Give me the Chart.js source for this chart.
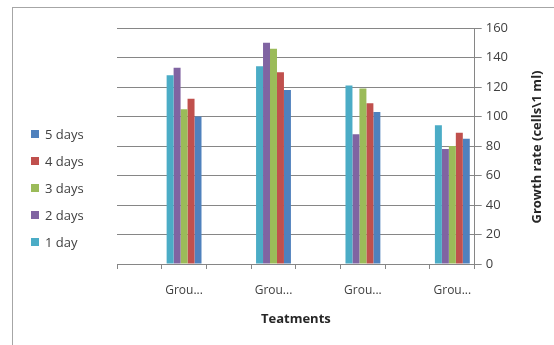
<!DOCTYPE html>
<html>
<head>
<meta charset="utf-8">
<script src="https://cdn.jsdelivr.net/npm/chart.js@4.4.0/dist/chart.umd.min.js"></script>
<style>
  html, body { margin: 0; padding: 0; background: #fff; }
  #wrap { width: 554px; height: 345px; position: relative; }
</style>
</head>
<body>
<div id="wrap"><canvas id="growthChart"></canvas></div>
<script>
// groups (Excel left an empty slot before each group on the axis)
const groups = ['Grou...', 'Grou...', 'Grou...', 'Grou...'];
const yTicks = [0, 20, 40, 60, 80, 100, 120, 140, 160];

const day1 = [128, 134, 121, 94];
const day2 = [133, 150, 88, 78];
const day3 = [105, 146, 119, 80];
const day4 = [112, 130, 109, 89];
const day5 = [100, 118, 103, 85];

const seriesNames = ['1 day', '2 days', '3 days', '4 days', '5 days'];
const seriesColors = ['#4BACC6', '#8064A2', '#9BBB59', '#C0504D', '#4F81BD'];

// spread over 8 slots: blank, group, blank, group ...
function spread(arr, blank) {
    const out = [];
    arr.forEach(v => { out.push(blank); out.push(v); });
    return out;
}
const labels = spread(groups, '');

const datasets = [day1, day2, day3, day4, day5].map((d, i) => ({
    label: seriesNames[i],
    data: spread(d, null),
    backgroundColor: seriesColors[i],
    borderWidth: 0,
    barPercentage: 1.0,
    categoryPercentage: 0.78
}));

// chart frame, legend and rotated y title
const extras = {
    id: 'extras',
    afterDraw(chart) {
        const ctx = chart.ctx;
        ctx.save();
        ctx.strokeStyle = '#a6a6a6';
        ctx.lineWidth = 1;
        ctx.strokeRect(12.5, 7.5, 600, 400);

        // legend, reversed like Excel
        ctx.font = '13px "Open Sans"';
        ctx.textBaseline = 'middle';
        const ys = [134, 161, 188, 215, 242];
        for (let k = 0; k < 5; k++) {
            const i = 4 - k;
            ctx.fillStyle = seriesColors[i];
            ctx.fillRect(31, ys[k] - 4, 8, 8);
            ctx.fillStyle = '#404040';
            ctx.fillText(seriesNames[i], 45, ys[k] + 1);
        }

        // y axis title, reading bottom to top
        ctx.translate(537, 147);
        ctx.rotate(-Math.PI / 2);
        ctx.font = 'bold 13px "Open Sans"';
        ctx.textAlign = 'center';
        ctx.fillStyle = '#262626';
        ctx.fillText('Growth rate (cells\\1 ml)', 0, 0);
        ctx.restore();
    }
};

new Chart(document.getElementById('growthChart'), {
    type: 'bar',
    data: { labels: labels, datasets: datasets },
    plugins: [extras],
    options: {
        responsive: true,
        maintainAspectRatio: false,
        animation: false,
        layout: {
            padding: { left: 117, right: 42, top: 28, bottom: 14 }
        },
        plugins: {
            legend: { display: false },
            tooltip: { enabled: false }
        },
        scales: {
            x: {
                grid: {
                    drawOnChartArea: false,
                    color: '#868686',
                    tickLength: 5,
                    offset: true
                },
                border: { color: '#868686' },
                ticks: {
                    color: '#404040',
                    font: { family: 'Open Sans', size: 12 },
                    maxRotation: 0,
                    autoSkip: false,
                    padding: 14
                },
                title: {
                    display: true,
                    text: 'Teatments',
                    color: '#262626',
                    font: { family: 'Open Sans', size: 13, weight: 'bold' },
                    padding: { top: 0, bottom: 4 }
                }
            },
            y: {
                position: 'right',
                min: 0,
                max: 160,
                afterBuildTicks: function (axis) {
                    axis.ticks = yTicks.map(v => ({ value: v }));
                },
                grid: {
                    color: '#868686',
                    tickLength: 7
                },
                border: { color: '#868686' },
                ticks: {
                    color: '#404040',
                    font: { family: 'Open Sans', size: 13 },
                    padding: 4
                }
            }
        }
    }
});
</script>
</body>
</html>
